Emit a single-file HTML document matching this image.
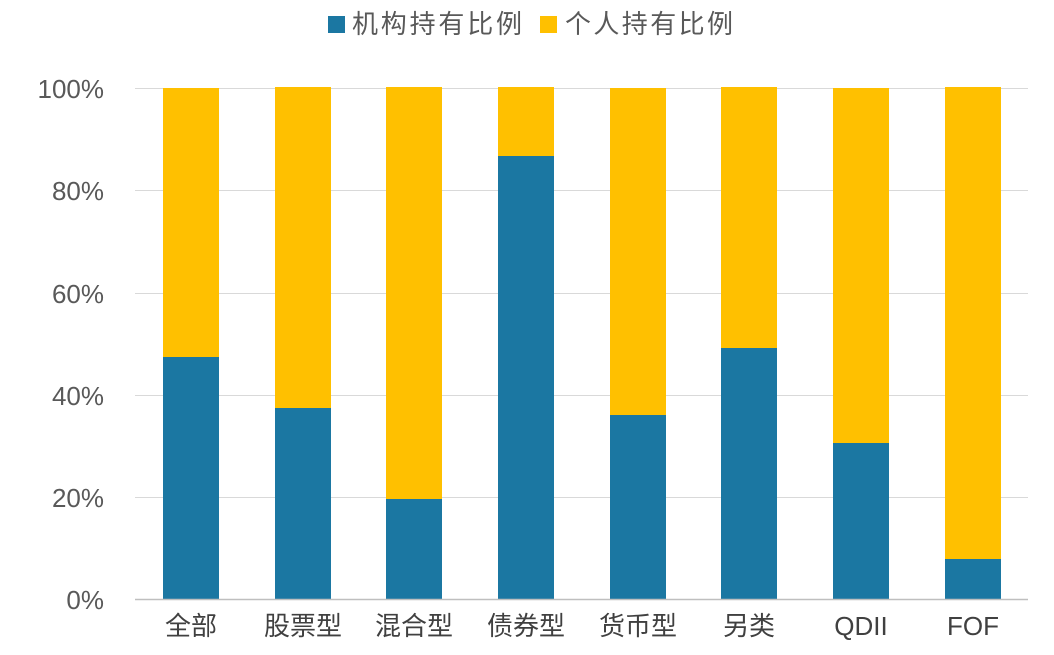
<!DOCTYPE html>
<html><head><meta charset="utf-8"><style>
body{margin:0;background:#fff;}
svg{display:block;font-family:"Liberation Sans","Noto Sans CJK SC",sans-serif;}
</style></head><body>
<svg width="1054" height="655" viewBox="0 0 1054 655">
<rect width="1054" height="655" fill="#fff"/>
<g stroke="#d9d9d9" stroke-width="1">
<line x1="135" y1="88.5" x2="1028" y2="88.5"/>
<line x1="135" y1="190.5" x2="1028" y2="190.5"/>
<line x1="135" y1="293.5" x2="1028" y2="293.5"/>
<line x1="135" y1="395.5" x2="1028" y2="395.5"/>
<line x1="135" y1="497.5" x2="1028" y2="497.5"/>
</g>
<g fill="#595959" font-size="26" text-anchor="end">
<text x="104" y="98">100%</text>
<text x="104" y="200">80%</text>
<text x="104" y="303">60%</text>
<text x="104" y="405">40%</text>
<text x="104" y="507">20%</text>
<text x="104" y="609">0%</text>
</g>
<g fill="#FFC000">
<rect x="163" y="88" width="56" height="511"/>
<rect x="275" y="87" width="56" height="512"/>
<rect x="386" y="87" width="56" height="512"/>
<rect x="498" y="87" width="56" height="512"/>
<rect x="610" y="88" width="56" height="511"/>
<rect x="721" y="87" width="56" height="512"/>
<rect x="833" y="88" width="56" height="511"/>
<rect x="945" y="87" width="56" height="512"/>
</g>
<g fill="#1B77A2">
<rect x="163" y="357" width="56" height="242"/>
<rect x="275" y="408" width="56" height="191"/>
<rect x="386" y="499" width="56" height="100"/>
<rect x="498" y="156" width="56" height="443"/>
<rect x="610" y="415" width="56" height="184"/>
<rect x="721" y="348" width="56" height="251"/>
<rect x="833" y="443" width="56" height="156"/>
<rect x="945" y="559" width="56" height="40"/>
</g>
<line x1="135" y1="599.5" x2="1028" y2="599.5" stroke="#bfbfbf" stroke-width="1.5"/>
<g fill="#404040" font-size="26" text-anchor="middle">
<text x="191" y="635">全部</text>
<text x="303" y="635">股票型</text>
<text x="414" y="635">混合型</text>
<text x="526" y="635">债券型</text>
<text x="638" y="635">货币型</text>
<text x="749" y="635">另类</text>
<text x="861" y="635">QDII</text>
<text x="973" y="635">FOF</text>
</g>
<rect x="328" y="16" width="17" height="17" fill="#1B77A2"/>
<text x="352" y="33" font-size="26" fill="#595959" textLength="170">机构持有比例</text>
<rect x="540" y="16" width="17" height="17" fill="#FFC000"/>
<text x="565" y="33" font-size="26" fill="#595959" textLength="168">个人持有比例</text>
</svg>
</body></html>
